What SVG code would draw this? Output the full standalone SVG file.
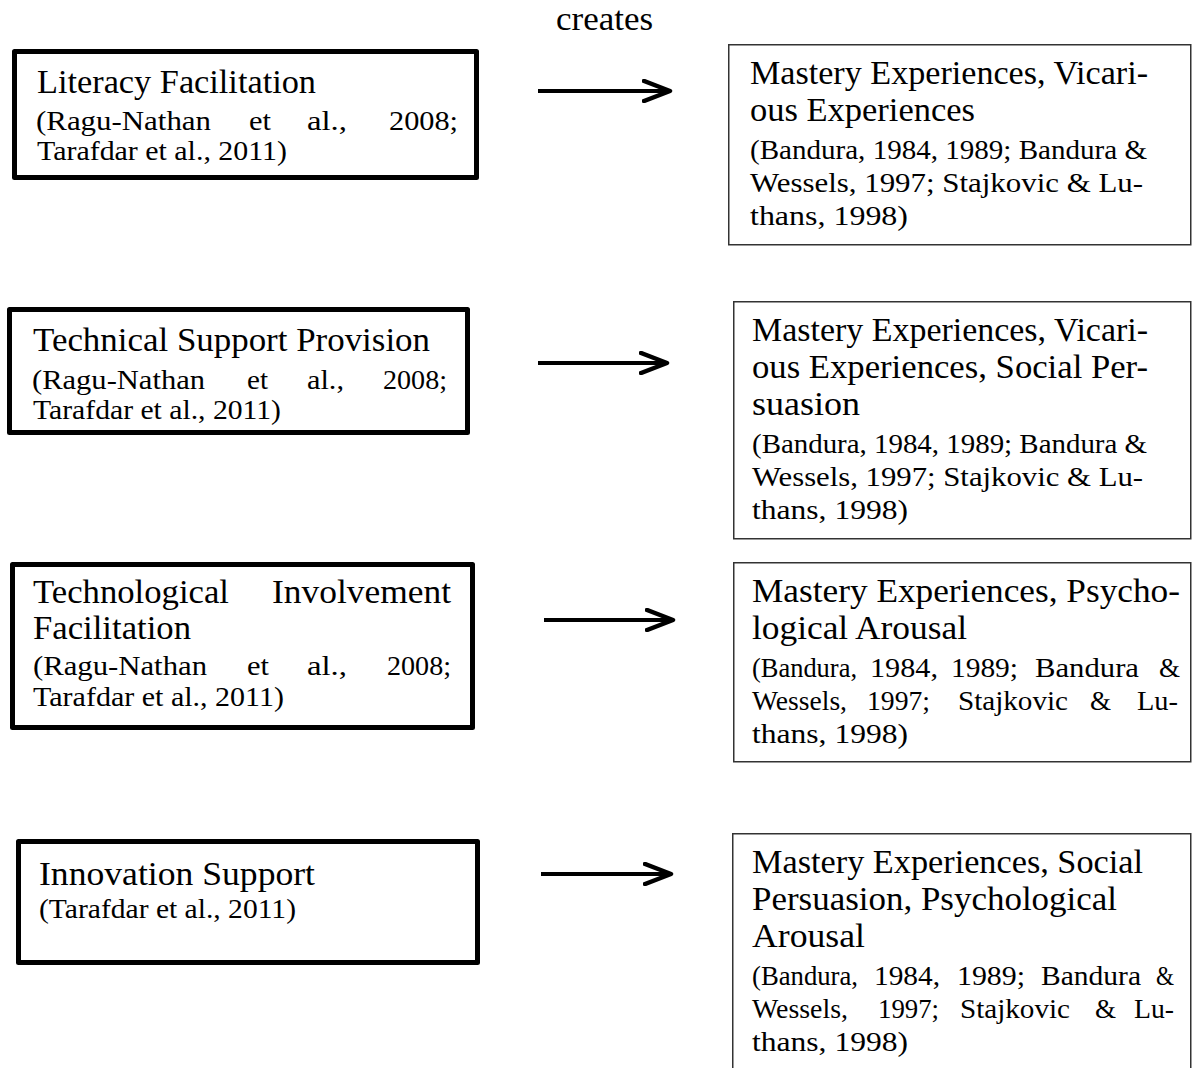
<svg xmlns="http://www.w3.org/2000/svg" width="1192" height="1068" viewBox="0 0 1192 1068">
<defs>
<style>
text{font-family:"Liberation Serif","Times New Roman",serif;fill:#000}
.big{font-size:33px}
.sm{font-size:28px}
.lbox{fill:#fff;stroke:#000;stroke-width:5;stroke-linejoin:round}
.rbox{fill:#fff;stroke:#333;stroke-width:1.5}
.conn{stroke:#000;stroke-width:4;fill:none}
</style>
<marker id="arr" markerUnits="userSpaceOnUse" viewBox="0 0 32 24" markerWidth="32" markerHeight="24" refX="25" refY="12" orient="auto">
<path d="M2,2 L28,12 L2,22" fill="none" stroke="#000" stroke-width="4.5" stroke-linecap="round" stroke-linejoin="round"/>
</marker>
</defs>
<rect width="1192" height="1068" fill="#fff"/>

<text id="label-creates" class="big" x="556" y="30" textLength="97" lengthAdjust="spacingAndGlyphs">creates</text>

<g id="connectors">
<line class="conn" x1="538" y1="91" x2="667" y2="91" marker-end="url(#arr)"/>
<line class="conn" x1="538" y1="363" x2="664" y2="363" marker-end="url(#arr)"/>
<line class="conn" x1="544" y1="620" x2="670" y2="620" marker-end="url(#arr)"/>
<line class="conn" x1="541" y1="874" x2="668" y2="874" marker-end="url(#arr)"/>
</g>

<g id="node-literacy">
<rect class="lbox" x="14.5" y="51.5" width="462" height="126"/>
<text class="big" x="37" y="93" textLength="279" lengthAdjust="spacingAndGlyphs">Literacy Facilitation</text>
<text class="sm" x="36" y="130" textLength="175" lengthAdjust="spacingAndGlyphs">(Ragu-Nathan</text>
<text class="sm" x="249" y="130" textLength="22" lengthAdjust="spacingAndGlyphs">et</text>
<text class="sm" x="307" y="130" textLength="40" lengthAdjust="spacingAndGlyphs">al.,</text>
<text class="sm" x="389" y="130" textLength="69" lengthAdjust="spacingAndGlyphs">2008;</text>
<text class="sm" x="37" y="160" textLength="250" lengthAdjust="spacingAndGlyphs">Tarafdar et al., 2011)</text>
</g>

<g id="node-technical">
<rect class="lbox" x="9.5" y="309.5" width="458" height="123"/>
<text class="big" x="33" y="351" textLength="397" lengthAdjust="spacingAndGlyphs">Technical Support Provision</text>
<text class="sm" x="32" y="389" textLength="173" lengthAdjust="spacingAndGlyphs">(Ragu-Nathan</text>
<text class="sm" x="247" y="389" textLength="21" lengthAdjust="spacingAndGlyphs">et</text>
<text class="sm" x="307" y="389" textLength="37" lengthAdjust="spacingAndGlyphs">al.,</text>
<text class="sm" x="383" y="389" textLength="64" lengthAdjust="spacingAndGlyphs">2008;</text>
<text class="sm" x="33" y="419" textLength="248" lengthAdjust="spacingAndGlyphs">Tarafdar et al., 2011)</text>
</g>

<g id="node-involvement">
<rect class="lbox" x="12.5" y="564.5" width="460" height="163"/>
<text class="big" x="33" y="603" textLength="196" lengthAdjust="spacingAndGlyphs">Technological</text>
<text class="big" x="272" y="603" textLength="179" lengthAdjust="spacingAndGlyphs">Involvement</text>
<text class="big" x="33" y="639" textLength="158" lengthAdjust="spacingAndGlyphs">Facilitation</text>
<text class="sm" x="33" y="675" textLength="174" lengthAdjust="spacingAndGlyphs">(Ragu-Nathan</text>
<text class="sm" x="247" y="675" textLength="22" lengthAdjust="spacingAndGlyphs">et</text>
<text class="sm" x="307" y="675" textLength="40" lengthAdjust="spacingAndGlyphs">al.,</text>
<text class="sm" x="387" y="675" textLength="64" lengthAdjust="spacingAndGlyphs">2008;</text>
<text class="sm" x="33" y="706" textLength="251" lengthAdjust="spacingAndGlyphs">Tarafdar et al., 2011)</text>
</g>

<g id="node-innovation">
<rect class="lbox" x="18.5" y="841.5" width="459" height="121"/>
<text class="big" x="39" y="885" textLength="276" lengthAdjust="spacingAndGlyphs">Innovation Support</text>
<text class="sm" x="39" y="918" textLength="257" lengthAdjust="spacingAndGlyphs">(Tarafdar et al., 2011)</text>
</g>

<g id="node-mastery-vicarious">
<rect class="rbox" x="728.75" y="44.75" width="462" height="200"/>
<text class="big" x="750" y="84" textLength="398" lengthAdjust="spacingAndGlyphs">Mastery Experiences, Vicari-</text>
<text class="big" x="750" y="121" textLength="225" lengthAdjust="spacingAndGlyphs">ous Experiences</text>
<text class="sm" x="750" y="159" textLength="397" lengthAdjust="spacingAndGlyphs">(Bandura, 1984, 1989; Bandura &amp;</text>
<text class="sm" x="750" y="192" textLength="393" lengthAdjust="spacingAndGlyphs">Wessels, 1997; Stajkovic &amp; Lu-</text>
<text class="sm" x="750" y="225" textLength="158" lengthAdjust="spacingAndGlyphs">thans, 1998)</text>
</g>

<g id="node-mastery-vicarious-social">
<rect class="rbox" x="733.75" y="301.75" width="457" height="237"/>
<text class="big" x="752" y="341" textLength="396" lengthAdjust="spacingAndGlyphs">Mastery Experiences, Vicari-</text>
<text class="big" x="752" y="378" textLength="396" lengthAdjust="spacingAndGlyphs">ous Experiences, Social Per-</text>
<text class="big" x="752" y="415" textLength="108" lengthAdjust="spacingAndGlyphs">suasion</text>
<text class="sm" x="752" y="453" textLength="395" lengthAdjust="spacingAndGlyphs">(Bandura, 1984, 1989; Bandura &amp;</text>
<text class="sm" x="752" y="486" textLength="391" lengthAdjust="spacingAndGlyphs">Wessels, 1997; Stajkovic &amp; Lu-</text>
<text class="sm" x="752" y="519" textLength="156" lengthAdjust="spacingAndGlyphs">thans, 1998)</text>
</g>

<g id="node-mastery-arousal">
<rect class="rbox" x="733.75" y="562.75" width="457" height="199"/>
<text class="big" x="752" y="602" textLength="428" lengthAdjust="spacingAndGlyphs">Mastery Experiences, Psycho-</text>
<text class="big" x="752" y="639" textLength="215" lengthAdjust="spacingAndGlyphs">logical Arousal</text>
<text class="sm" x="752" y="677" textLength="105" lengthAdjust="spacingAndGlyphs">(Bandura,</text>
<text class="sm" x="870" y="677" textLength="68" lengthAdjust="spacingAndGlyphs">1984,</text>
<text class="sm" x="951" y="677" textLength="67" lengthAdjust="spacingAndGlyphs">1989;</text>
<text class="sm" x="1035" y="677" textLength="104" lengthAdjust="spacingAndGlyphs">Bandura</text>
<text class="sm" x="1159" y="677" textLength="21" lengthAdjust="spacingAndGlyphs">&amp;</text>
<text class="sm" x="752" y="710" textLength="95" lengthAdjust="spacingAndGlyphs">Wessels,</text>
<text class="sm" x="867" y="710" textLength="63" lengthAdjust="spacingAndGlyphs">1997;</text>
<text class="sm" x="958" y="710" textLength="110" lengthAdjust="spacingAndGlyphs">Stajkovic</text>
<text class="sm" x="1090" y="710" textLength="21" lengthAdjust="spacingAndGlyphs">&amp;</text>
<text class="sm" x="1137" y="710" textLength="41" lengthAdjust="spacingAndGlyphs">Lu-</text>
<text class="sm" x="752" y="743" textLength="156" lengthAdjust="spacingAndGlyphs">thans, 1998)</text>
</g>

<g id="node-mastery-social-arousal">
<path class="rbox" d="M732.75,1070 V833.75 H1190.75 V1070"/>
<text class="big" x="752" y="873" textLength="391" lengthAdjust="spacingAndGlyphs">Mastery Experiences, Social</text>
<text class="big" x="752" y="910" textLength="365" lengthAdjust="spacingAndGlyphs">Persuasion, Psychological</text>
<text class="big" x="752" y="947" textLength="113" lengthAdjust="spacingAndGlyphs">Arousal</text>
<text class="sm" x="752" y="985" textLength="106" lengthAdjust="spacingAndGlyphs">(Bandura,</text>
<text class="sm" x="874" y="985" textLength="66" lengthAdjust="spacingAndGlyphs">1984,</text>
<text class="sm" x="957" y="985" textLength="68" lengthAdjust="spacingAndGlyphs">1989;</text>
<text class="sm" x="1041" y="985" textLength="100" lengthAdjust="spacingAndGlyphs">Bandura</text>
<text class="sm" x="1156" y="985" textLength="18" lengthAdjust="spacingAndGlyphs">&amp;</text>
<text class="sm" x="752" y="1018" textLength="96" lengthAdjust="spacingAndGlyphs">Wessels,</text>
<text class="sm" x="878" y="1018" textLength="61" lengthAdjust="spacingAndGlyphs">1997;</text>
<text class="sm" x="960" y="1018" textLength="110" lengthAdjust="spacingAndGlyphs">Stajkovic</text>
<text class="sm" x="1095" y="1018" textLength="21" lengthAdjust="spacingAndGlyphs">&amp;</text>
<text class="sm" x="1134" y="1018" textLength="40" lengthAdjust="spacingAndGlyphs">Lu-</text>
<text class="sm" x="752" y="1051" textLength="156" lengthAdjust="spacingAndGlyphs">thans, 1998)</text>
</g>
</svg>
